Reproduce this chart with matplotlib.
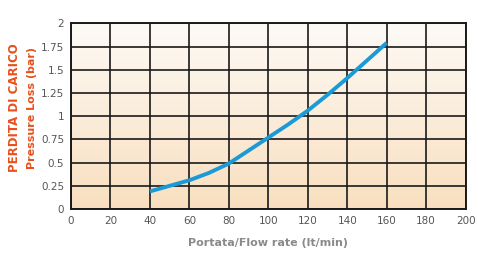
import numpy as np
from matplotlib import pyplot as plt
from matplotlib.colors import LinearSegmentedColormap

# dati
portata = [40, 50, 60, 70, 80, 90, 100, 110, 120, 130, 140, 150, 160]
perdita = [0.19, 0.25, 0.31, 0.39, 0.49, 0.63, 0.77, 0.91, 1.06, 1.23, 1.41, 1.60, 1.79]
xticks = [0, 20, 40, 60, 80, 100, 120, 140, 160, 180, 200]
yticks = [0, 0.25, 0.5, 0.75, 1, 1.25, 1.5, 1.75, 2]
ylabels = ['0', '0.25', '0.5', '0.75', '1', '1.25', '1.5', '1.75', '2']

fig = plt.figure(figsize=(4.78, 2.6), dpi=100)
ax = fig.add_axes([0.1485, 0.196, 0.8255, 0.714])

# sfondo sfumato
cmap = LinearSegmentedColormap.from_list('bg', ['#f9dfbf', '#fdfaf6'])
grad = np.linspace(0, 1, 256).reshape(-1, 1)
ax.imshow(grad, aspect='auto', cmap=cmap, origin='lower',
          extent=[0, 200, 0, 2], zorder=0)

ax.set_xlim(0, 200)
ax.set_ylim(0, 2)
ax.set_xticks(xticks)
ax.set_yticks(yticks)
ax.set_yticklabels(ylabels)
ax.grid(True, color='#1a1a1a', linewidth=1.2, zorder=1)
ax.set_axisbelow(False)
ax.tick_params(length=0, pad=5, labelsize=7.5, colors='#555555')
for s in ax.spines.values():
    s.set_color('#1a1a1a')
    s.set_linewidth(1.4)

ax.plot(portata, perdita, color='#1a9ad6', linewidth=2.8,
        solid_capstyle='butt', zorder=3)

ax.set_xlabel('Portata/Flow rate (lt/min)', fontsize=8, fontweight='bold',
              color='#8a8a8a', labelpad=9)

fig.text(0.03, 0.585, 'PERDITA DI CARICO', rotation=90, ha='center',
         va='center', fontsize=8.5, fontweight='bold', color='#e8501c')
fig.text(0.066, 0.585, 'Pressure Loss (bar)', rotation=90, ha='center',
         va='center', fontsize=8, fontweight='bold', color='#e8501c')

plt.savefig('out.png', dpi=100)
